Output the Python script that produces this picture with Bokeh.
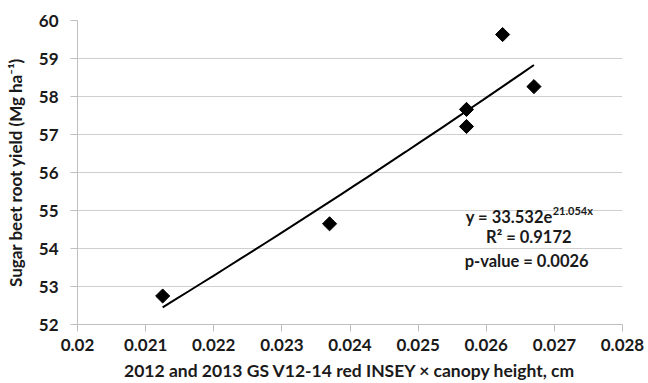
import numpy as np
from bokeh.plotting import figure
from bokeh.models import Range1d, FixedTicker, CustomJSTickFormatter, Label, ColumnDataSource
from bokeh.embed import file_html
from bokeh.resources import INLINE

# data
insey_x = [0.02125, 0.0237, 0.02571, 0.02571, 0.02624, 0.0267]
root_yield = [52.75, 54.65, 57.66, 57.21, 59.63, 58.26]

# exponential trend shown on the chart: y = 33.532 e^(21.054 x)
trend_a = 33.532
trend_b = 21.054

x_ticks = [0.02, 0.021, 0.022, 0.023, 0.024, 0.025, 0.026, 0.027, 0.028]
x_tick_labels = ["0.02", "0.021", "0.022", "0.023", "0.024", "0.025", "0.026", "0.027", "0.028"]
y_ticks = [52, 53, 54, 55, 56, 57, 58, 59, 60]

FONT = "Lato"
TXT = "#1a1a1a"

p = figure(width=648, height=383, output_backend="svg", toolbar_location=None,
           x_range=Range1d(0.02, 0.028), y_range=Range1d(52, 60),
           min_border_left=77, min_border_right=26, min_border_top=20, min_border_bottom=59)
p.outline_line_color = None
p.background_fill_color = "white"
p.border_fill_color = "white"

# grid
p.xgrid.visible = False
p.ygrid.grid_line_color = "#cfcfcf"
p.ygrid.grid_line_width = 1

# axes
p.xaxis.ticker = FixedTicker(ticks=x_ticks)
p.xaxis.formatter = CustomJSTickFormatter(args=dict(tv=x_ticks, tl=x_tick_labels), code="""
const i = tv.findIndex(t => Math.abs(t - tick) < 1e-9);
return i >= 0 ? tl[i] : "";
""")
p.yaxis.ticker = FixedTicker(ticks=y_ticks)
for ax in (p.xaxis[0], p.yaxis[0]):
    ax.axis_line_color = "#bfbfbf"
    ax.major_tick_line_color = "#bfbfbf"
    ax.major_tick_out = 7
    ax.major_tick_in = 0
    ax.minor_tick_line_color = None
    ax.major_label_text_font = FONT
    ax.major_label_text_font_style = "bold"
    ax.major_label_text_font_size = "17px"
    ax.major_label_text_color = TXT
    ax.axis_label_text_font = FONT
    ax.axis_label_text_font_style = "bold"
    ax.axis_label_text_color = TXT
p.xaxis.axis_label_text_font_size = "17.5px"
p.yaxis.axis_label_text_font_size = "17px"
p.xaxis.major_label_standoff = 7
p.yaxis.major_label_standoff = 12
p.xaxis.axis_label = "2012 and 2013 GS V12-14 red INSEY \u00d7 canopy height, cm"
p.yaxis.axis_label = "Sugar beet root yield (Mg ha\u207b\u00b9)"
p.xaxis.axis_label_standoff = 6
p.yaxis.axis_label_standoff = 10

# trend line (from the printed coefficients)
tx = np.linspace(min(insey_x), max(insey_x), 30)
ty = trend_a * np.exp(trend_b * tx)
p.line(tx, ty, line_color="black", line_width=2)

# points (diamonds = rotated squares)
src = ColumnDataSource(dict(x=insey_x, y=root_yield))
p.scatter("x", "y", source=src, marker="square", angle=np.pi / 4, size=10,
          fill_color="black", line_color="black")

# annotations
common = dict(text_font=FONT, text_font_style="bold", text_color=TXT)
p.add_layout(Label(x=0.026975, y=54.82, text="y = 33.532e", text_font_size="16.5px",
                   text_align="right", text_baseline="middle", **common))
p.add_layout(Label(x=0.026975, y=55.0, text="21.054x", text_font_size="11px",
                   text_align="left", text_baseline="middle", **common))
p.add_layout(Label(x=0.026625, y=54.29, text="R\u00b2 = 0.9172", text_font_size="16.5px",
                   text_align="center", text_baseline="middle", **common))
p.add_layout(Label(x=0.026593, y=53.68, text="p-value = 0.0026", text_font_size="16.5px",
                   text_align="center", text_baseline="middle", **common))

open("out.html", "w").write(file_html(p, INLINE))
